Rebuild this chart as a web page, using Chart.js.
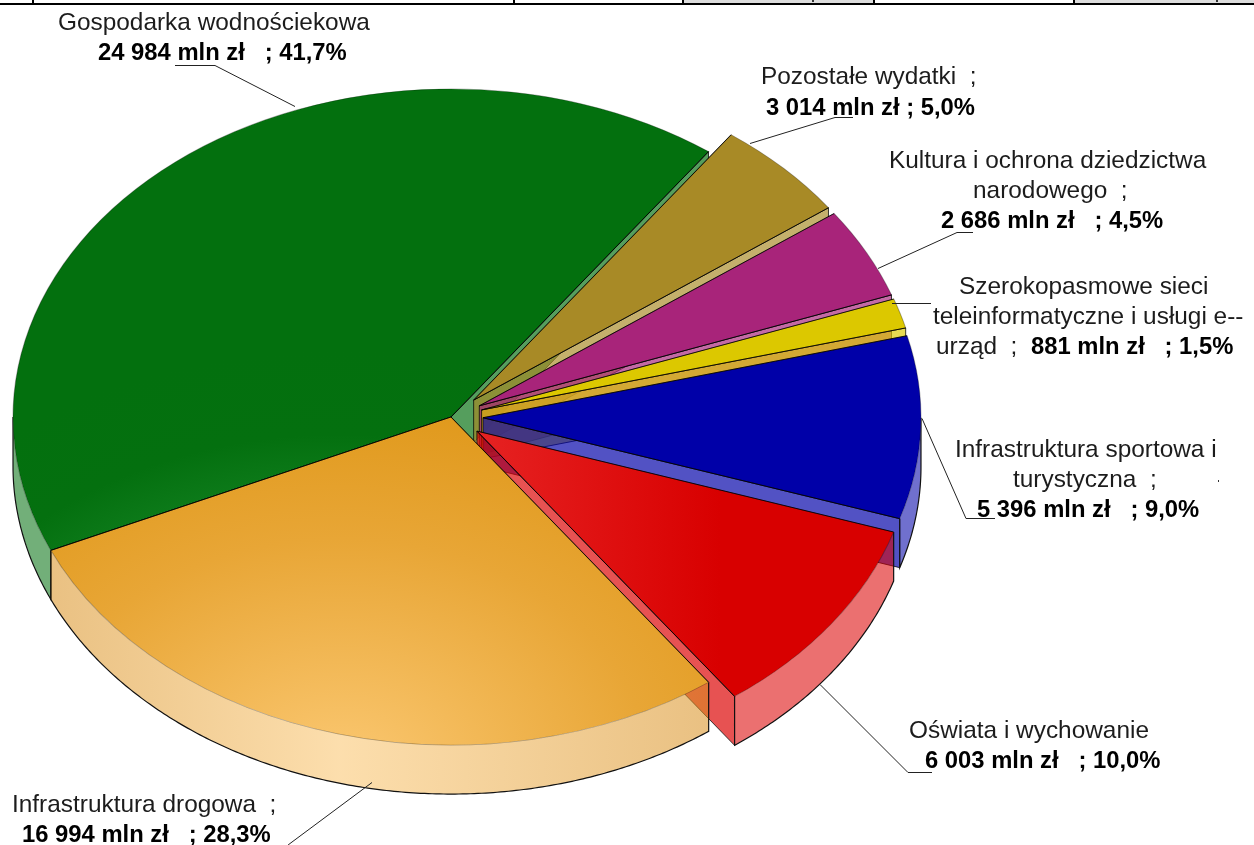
<!DOCTYPE html>
<html>
<head>
<meta charset="utf-8">
<title>Wydatki</title>
<script src="https://cdn.jsdelivr.net/npm/chart.js@4/dist/chart.umd.min.js"></script>
<style>
html, body { margin: 0; padding: 0; background: #fff; overflow: hidden; }
canvas { display: block; }
</style>
</head>
<body>
<canvas id="myChart" width="1254" height="845"></canvas>
<script>
// values in mln zl, order = back to front, the drawing order of the slices
let categories = ["Gospodarka wodnościekowa", "Pozostałe wydatki", "Kultura i ochrona dziedzictwa narodowego", "Szerokopasmowe sieci teleinformatyczne i usługi e-urząd", "Infrastruktura sportowa i turystyczna", "Oświata i wychowanie", "Infrastruktura drogowa"];
let values = [24984, 3014, 2686, 881, 5396, 6003, 16994];
let percents = ["41,7", "5,0", "4,5", "1,5", "9,0", "10,0", "28,3"];

let colors = ["#04700f", "#a88a26", "#a8247a", "#dcc800", "#0000a8", "#d80000", "#e09a1e"];
let rgb = [[4,112,16], [168,138,38], [168,36,122], [220,200,0], [0,0,168], [220,0,0], [225,150,30]];
let explode = [0, 32, 32, 32, 32, 32, 0];

// wrapped text of each label, null is where the bold line goes
let labelLines = [
    [[58, 30, "Gospodarka wodnościekowa"], [98, 60, null]],
    [[761, 84, "Pozostałe wydatki  ;"], [766, 115, null]],
    [[889, 168, "Kultura i ochrona dziedzictwa"], [973, 198, "narodowego  ;"], [941, 228, null]],
    [[959, 294, "Szerokopasmowe sieci"], [933, 324, "teleinformatyczne i usługi e--"], [936, 354, "urząd  ;"], [1031, 354, null]],
    [[955, 457, "Infrastruktura sportowa i"], [1013, 487, "turystyczna  ;"], [977, 517, null]],
    [[909, 738, "Oświata i wychowanie"], [925, 768, null]],
    [[12, 812, "Infrastruktura drogowa  ;"], [22, 842, null]]
];
let leaders = [
    [[175,65], [215,65], [295,106]],
    [[853,117], [835,117], [750,143]],
    [[973,232], [957,232], [878,268]],
    [[931,303], [892,303]],
    [[922,418], [966,518], [995,518]],
    [[820,684], [908,772], [932,772]],
    [[372,782], [290,843], [285,847]]
];
let gridX = [32, 513, 682, 873, 1073];

let pieCenter = { x: 451, y: 417 };
let pieRadius = 438;
let tilt = 0.749;
let depth = 49;

function fmtValue(v) {
    let s = String(v);
    if (s.length > 3) s = s.slice(0, s.length - 3) + " " + s.slice(s.length - 3);
    return s;
}

function boldLine(i) {
    if (i == 1) return fmtValue(values[i]) + " mln zł ; " + percents[i] + "%";
    return fmtValue(values[i]) + " mln zł   ; " + percents[i] + "%";
}

let pie3d = {
    id: "pie3d",
    beforeDatasetsDraw(chart) {
        let ctx = chart.ctx;
        let arcs = chart.getDatasetMeta(0).data;
        let area = chart.chartArea;
        let cx = (area.left + area.right) / 2;
        let cy = (area.top + area.bottom) / 2;
        let sx = pieRadius / arcs[0].outerRadius;
        let sy = sx * tilt;

        arcs.forEach(function(arc, i) {
            let mid = (arc.startAngle + arc.endAngle) / 2;
            let ox = Math.cos(mid) * explode[i] / sx;
            let oy = Math.sin(mid) * explode[i] / sx;
            let r = arc.outerRadius;
            let pt = function(a, rad, d) {
                return [
                    pieCenter.x + sx * (ox + Math.cos(a) * rad),
                    pieCenter.y + sy * (oy + Math.sin(a) * rad) + d
                ];
            };
            let c = rgb[i];

            // cut wall, only the end one can face the viewer here
            let a = arc.endAngle;
            if (Math.cos(a) > 0) {
                let p1 = pt(a, 0, 0), p2 = pt(a, r, 0), p3 = pt(a, r, depth), p4 = pt(a, 0, depth);
                ctx.beginPath();
                ctx.moveTo(p1[0], p1[1]);
                ctx.lineTo(p2[0], p2[1]);
                ctx.lineTo(p3[0], p3[1]);
                ctx.lineTo(p4[0], p4[1]);
                ctx.closePath();
                ctx.fillStyle = "rgba(" + c[0] + "," + c[1] + "," + c[2] + ",0.68)";
                ctx.fill();
                ctx.strokeStyle = "rgba(0,0,0,0.75)";
                ctx.lineWidth = 1;
                ctx.stroke();
            }

            // outer rim, only what faces the viewer
            let rim = [];
            for (let t = arc.startAngle; t <= arc.endAngle; t += Math.PI / 360) {
                if (Math.sin(t) >= 0) rim.push(t);
            }
            if (Math.sin(arc.endAngle) >= 0) rim.push(arc.endAngle);
            if (rim.length > 1) {
                ctx.beginPath();
                rim.forEach(function(t, n) {
                    let p = pt(t, r, 0);
                    if (n == 0) ctx.moveTo(p[0], p[1]); else ctx.lineTo(p[0], p[1]);
                });
                rim.slice().reverse().forEach(function(t) {
                    let p = pt(t, r, depth);
                    ctx.lineTo(p[0], p[1]);
                });
                ctx.closePath();
                let g = ctx.createLinearGradient(40, 0, 720, 0);
                if (i == 6) {
                    g.addColorStop(0, "rgba(215,140,25,0.55)");
                    g.addColorStop(0.44, "rgba(250,195,105,0.55)");
                    g.addColorStop(1, "rgba(215,140,25,0.55)");
                    ctx.fillStyle = g;
                } else {
                    ctx.fillStyle = "rgba(" + c[0] + "," + c[1] + "," + c[2] + ",0.56)";
                }
                ctx.fill();
                // bottom edge and the two verticals
                ctx.beginPath();
                let first = pt(rim[0], r, 0);
                ctx.moveTo(first[0], first[1]);
                rim.forEach(function(t) {
                    let p = pt(t, r, depth);
                    ctx.lineTo(p[0], p[1]);
                });
                let last = pt(rim[rim.length - 1], r, 0);
                ctx.lineTo(last[0], last[1]);
                ctx.strokeStyle = "#111";
                ctx.lineWidth = 1.2;
                ctx.stroke();
            }

            // top face, the library's own arc under the tilt transform
            ctx.save();
            ctx.translate(pieCenter.x + sx * ox, pieCenter.y + sy * oy);
            ctx.scale(sx, sy);
            ctx.translate(-cx, -cy);
            let lx = cx + (340 - pieCenter.x) / sx - ox;
            let ly = cy + (770 - pieCenter.y) / sy - oy;
            let top = ctx.createRadialGradient(lx, ly, 0, lx, ly, 560 / sx);
            if (i == 6) {
                top.addColorStop(0, "#fbc872");
                top.addColorStop(0.55, "#e8a636");
                top.addColorStop(1, "#dd9412");
            } else if (i == 0) {
                top.addColorStop(0, "#2a9a3a");
                top.addColorStop(0.5, "#1a8a2a");
                top.addColorStop(0.8, "#04700f");
                top.addColorStop(1, "#03700e");
            } else if (i == 5) {
                top = ctx.createLinearGradient(cx + (480 - pieCenter.x) / sx - ox, cy, cx + (720 - pieCenter.x) / sx - ox, cy);
                top.addColorStop(0, "#e62222");
                top.addColorStop(1, "#d80000");
            } else {
                top = colors[i];
            }
            let saved = arc.options;
            arc.options = Object.assign({}, saved, { backgroundColor: top, borderColor: "rgba(0,0,0,0.3)", borderWidth: 1 });
            arc.draw(ctx);
            arc.options = saved;
            ctx.restore();

            // the straight cut edges are much darker than the round one
            let s0 = pt(arc.startAngle, r, 0), s1 = pt(arc.startAngle, 0, 0), s2 = pt(arc.endAngle, r, 0);
            ctx.beginPath();
            ctx.moveTo(s0[0], s0[1]);
            ctx.lineTo(s1[0], s1[1]);
            ctx.lineTo(s2[0], s2[1]);
            ctx.strokeStyle = "rgba(0,0,0,0.85)";
            ctx.lineWidth = 1;
            ctx.stroke();
        });
        return false;
    },
    afterDraw(chart) {
        let ctx = chart.ctx;
        ctx.save();
        // leftover rule of the table above the chart
        ctx.fillStyle = "#dcdcdc";
        ctx.fillRect(684, 0, 189, 3);
        ctx.fillRect(1075, 0, 179, 3);
        ctx.fillStyle = "#000";
        ctx.fillRect(0, 3, 1254, 2);
        gridX.forEach(function(x) { ctx.fillRect(x, 0, 2, 4); });
        ctx.fillStyle = "#333";
        ctx.fillRect(812, 0, 2, 2);
        ctx.fillRect(1216, 0, 2, 2);

        ctx.strokeStyle = "#222";
        ctx.lineWidth = 1;
        leaders.forEach(function(line) {
            ctx.beginPath();
            line.forEach(function(p, n) {
                if (n == 0) ctx.moveTo(p[0], p[1] + 0.5); else ctx.lineTo(p[0], p[1] + 0.5);
            });
            ctx.stroke();
        });

        ctx.textAlign = "left";
        ctx.textBaseline = "alphabetic";
        labelLines.forEach(function(lines, i) {
            lines.forEach(function(l) {
                if (l[2] === null) {
                    ctx.font = "bold 23.8px 'Liberation Sans'";
                    ctx.fillStyle = "#000";
                    ctx.fillText(boldLine(i), l[0], l[1]);
                } else {
                    ctx.font = "24.4px 'Liberation Sans'";
                    ctx.fillStyle = "#1c1c1c";
                    ctx.fillText(l[2], l[0], l[1]);
                }
            });
        });
        ctx.fillStyle = "#333";
        ctx.fillRect(1218, 480, 1, 2);
        ctx.restore();
    }
};

let myChart = document.getElementById("myChart").getContext("2d");
let pieChart = new Chart(myChart, {
    type: "pie",
    data: {
        labels: categories,
        datasets: [{
            data: values,
            backgroundColor: colors,
            borderColor: "#000",
            borderWidth: 1
        }]
    },
    options: {
        responsive: false,
        animation: false,
        rotation: 246,
        layout: { padding: 0 },
        plugins: {
            title: { display: false },
            legend: { display: false },
            tooltip: { enabled: false }
        }
    },
    plugins: [pie3d]
});
</script>
</body>
</html>
